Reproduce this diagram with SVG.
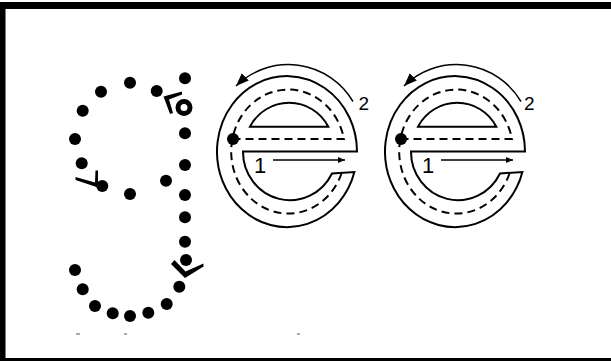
<svg xmlns="http://www.w3.org/2000/svg" xmlns:xlink="http://www.w3.org/1999/xlink" width="611" height="361" viewBox="0 0 611 361">
<style>
.outline{fill:none;stroke:#000;stroke-width:2;stroke-linejoin:miter}
.mid{fill:none;stroke:#000;stroke-width:2;stroke-dasharray:8 5}
.arr{fill:none;stroke:#000;stroke-width:1.5}
.dot{fill:#000}
.lbl{font-family:"Liberation Sans",Arial,sans-serif;font-size:19px;fill:#000}
.one{font-family:"Liberation Sans",Arial,sans-serif;font-size:22px;fill:#000}
.tick{stroke:#555;stroke-width:1}
</style>
<defs>
<marker id="headBig" markerUnits="userSpaceOnUse" markerWidth="16" markerHeight="12" refX="13" refY="5" orient="auto">
<path d="M0,0 L13,5 L0,10 Z" fill="#000"/>
</marker>
<marker id="headSmall" markerUnits="userSpaceOnUse" markerWidth="10" markerHeight="8" refX="7" refY="3" orient="auto">
<path d="M0,0 L7,3 L0,6 Z" fill="#000"/>
</marker>
<g id="eShape">
<path class="outline" d="M357,151.5 A70 75.5 0 1 0 354.4,172 L332,173.5 A47 48.5 0 0 1 243,151.5 Z"/>
<path class="outline" d="M250,126.7 A44 44 0 0 1 328.3,126.7 Z"/>
<path class="mid" d="M232.5,139 H344 A57 62 0 1 0 341.5,173.5"/>
<circle class="dot" cx="233" cy="139" r="6"/>
<path class="arr" d="M353,101.5 A75 75 0 0 0 236,86" marker-end="url(#headBig)"/>
<path class="arr" d="M273,160 H345" marker-end="url(#headSmall)"/>
</g>
</defs>
<g id="frame">
<rect x="0" y="2" width="611" height="7" fill="#000"/>
<rect x="0" y="2" width="5.5" height="359" fill="#000"/>
<rect x="0" y="358" width="611" height="3" fill="#000"/>
</g>
<g id="g-dotted">
<g class="dot">
<circle cx="185" cy="78.3" r="6"/>
<circle cx="130" cy="82.7" r="6"/>
<circle cx="101" cy="91.7" r="6"/>
<circle cx="156.7" cy="91" r="6"/>
<circle cx="82.7" cy="110.7" r="6"/>
<circle cx="75" cy="139" r="6"/>
<circle cx="185" cy="133.3" r="6"/>
<circle cx="81.7" cy="163.3" r="6"/>
<circle cx="185" cy="165" r="6"/>
<circle cx="102.3" cy="186" r="6"/>
<circle cx="130" cy="194" r="6"/>
<circle cx="166" cy="180.7" r="6"/>
<circle cx="185" cy="195" r="6"/>
<circle cx="185" cy="217.3" r="6"/>
<circle cx="185" cy="241.7" r="6"/>
<circle cx="186" cy="260" r="6"/>
<circle cx="179.3" cy="286.7" r="6"/>
<circle cx="75" cy="270" r="6"/>
<circle cx="82.7" cy="289.3" r="6"/>
<circle cx="95" cy="306" r="6"/>
<circle cx="112.7" cy="313.3" r="6"/>
<circle cx="130" cy="316" r="6"/>
<circle cx="148.3" cy="312.7" r="6"/>
<circle cx="166.7" cy="304" r="6"/>
</g>
<circle cx="184" cy="107.5" r="6" fill="none" stroke="#000" stroke-width="5"/>
<polygon points="163.5,96.5 182,91.5 182,94.5 169,99.5 173,113 170,114" fill="#000"/>
<polygon points="98,187.5 98,170.5 95.5,170.5 95,182.5 75.5,177 75.5,180" fill="#000"/>
<polygon points="185,278 171,264 174.5,260 185.5,271.5 203.5,263.5 203.5,266.5" fill="#000"/>
<line class="tick" x1="76" y1="334" x2="80" y2="334"/>
<line class="tick" x1="124" y1="334" x2="127" y2="334"/>
<line class="tick" x1="297" y1="334" x2="300" y2="334"/>
</g>
<g id="e1">
<use xlink:href="#eShape"/>
<text class="one" x="254" y="173">1</text>
<text class="lbl" x="358.5" y="110">2</text>
</g>
<g id="e2">
<use xlink:href="#eShape" transform="translate(168,0)"/>
<text class="one" x="422" y="173">1</text>
<text class="lbl" x="524" y="110">2</text>
</g>
</svg>
